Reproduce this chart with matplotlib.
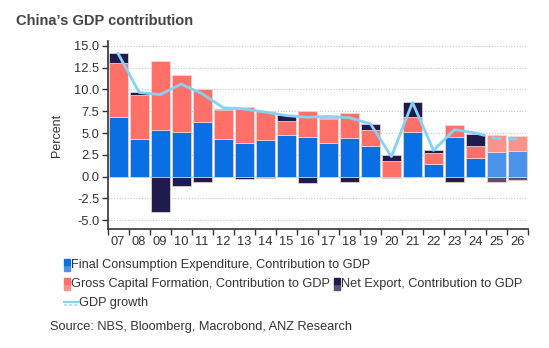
import matplotlib
matplotlib.use("Agg")
import matplotlib.pyplot as plt
from matplotlib.patches import Rectangle
from matplotlib.lines import Line2D
import numpy as np

plt.rcParams['font.family'] = ['Liberation Sans', 'DejaVu Sans']

years = ['07', '08', '09', '10', '11', '12', '13', '14', '15', '16',
         '17', '18', '19', '20', '21', '22', '23', '24', '25', '26']
fce = [6.83, 4.27, 5.38, 5.08, 6.26, 4.27, 3.85, 4.16, 4.77, 4.54,
       3.85, 4.47, 3.55, -0.11, 5.15, 1.49, 4.54, 2.18, 2.86, 2.94]
gcf = [6.22, 5.12, 7.86, 6.56, 3.78, 3.33, 4.13, 3.32, 1.60, 3.02,
       2.75, 2.86, 1.83, 1.76, 1.68, 1.22, 1.38, 1.29, 1.87, 1.72]
netx = [1.07, 0.30, -4.00, -1.07, -0.60, 0.19, -0.27, -0.10, 0.65, -0.76,
        0.15, -0.57, 0.65, 0.68, 1.72, 0.34, -0.57, 1.45, -0.61, -0.42]
gdp = [14.1, 9.65, 9.4, 10.6, 9.5, 7.9, 7.75, 7.4, 7.0, 6.8,
       6.9, 6.75, 6.05, 2.3, 8.5, 3.0, 5.4, 5.0, 4.35, 4.3]
n_forecast = 2

C_BLUE, C_BLUE_F = '#0a6fe3', '#4a93e8'
C_RED, C_RED_F = '#ff7068', '#fc928c'
C_NAVY, C_NAVY_F = '#1f1b4c', '#575279'
C_LINE = '#84d2f4'
TXT = '#333333'

n = len(years)
x = np.arange(n)
is_f = np.array([i >= n - n_forecast for i in range(n)])

fig = plt.figure(figsize=(5.49, 3.48), dpi=100)
ax = fig.add_axes([0.196, 0.342, 0.766, 0.539])

w = 0.9
pos_base = np.zeros(n)
neg_base = np.zeros(n)
for vals, c, cf in [(fce, C_BLUE, C_BLUE_F), (gcf, C_RED, C_RED_F), (netx, C_NAVY, C_NAVY_F)]:
    v = np.array(vals)
    bottoms = np.where(v >= 0, pos_base, neg_base)
    cols = [cf if f else c for f in is_f]
    ax.bar(x, v, w, bottom=bottoms, color=cols, edgecolor='#f3dada', linewidth=0.5, zorder=2)
    pos_base = pos_base + np.where(v >= 0, v, 0)
    neg_base = neg_base + np.where(v < 0, v, 0)

split = n - n_forecast - 1
ax.plot(x[:split + 1], gdp[:split + 1], color=C_LINE, lw=2, zorder=3)
ax.plot(x[split:], gdp[split:], color=C_LINE, lw=2, ls=(0, (3.5, 2.5)), zorder=3)

ax.set_xlim(-0.5, n - 0.5)
ax.set_ylim(-6, 15.5)
ax.set_yticks(np.arange(-5, 15.1, 2.5))
ax.set_yticklabels([f'{t:.1f}' for t in np.arange(-5, 15.1, 2.5)])
ax.yaxis.grid(True, color='#b5ccd8', linestyle=(0, (1, 1.5)), linewidth=0.8, zorder=0)
ax.set_xticks(x)
ax.set_xticklabels(years)
ax.set_xticks(np.arange(-0.5, n, 1), minor=True)
ax.tick_params(axis='x', which='major', length=0, labelsize=9.3, colors=TXT, pad=5)
ax.tick_params(axis='x', which='minor', length=4, width=1, color=TXT, direction='out')
ax.tick_params(axis='y', length=4, width=1, color=TXT, labelsize=9.3, labelcolor=TXT, pad=2)
for s in ['top', 'right']:
    ax.spines[s].set_visible(False)
for s in ['left', 'bottom']:
    ax.spines[s].set_color(TXT)
    ax.spines[s].set_linewidth(1.2)
ax.set_ylabel('Percent', fontsize=9, color=TXT, labelpad=8)

fig.text(16 / 549, 1 - 21 / 348, 'China\u2019s GDP contribution', fontsize=10.5,
         fontweight='bold', color='#444444', va='center', ha='left')

W, H = 549, 348


def patch(px, py, c1, c2):
    fig.patches.append(Rectangle((px / W, 1 - (py + 6) / H), 6 / W, 6 / H,
                                 transform=fig.transFigure, color=c2))
    fig.patches.append(Rectangle((px / W, 1 - py / H), 6 / W, 6 / H,
                                 transform=fig.transFigure, color=c1))


def label(px, py, s):
    fig.text(px / W, 1 - py / H, s, fontsize=9.2, color=TXT, va='center', ha='left')


patch(64, 265, C_BLUE, C_BLUE_F)
label(71, 265, 'Final Consumption Expenditure, Contribution to GDP')
patch(64, 284, C_RED, C_RED_F)
label(71, 284, 'Gross Capital Formation, Contribution to GDP')
patch(334, 284, C_NAVY, C_NAVY_F)
label(341, 284, 'Net Export, Contribution to GDP')
fig.lines.append(Line2D([64 / W, 78 / W], [1 - 302 / H, 1 - 302 / H], transform=fig.transFigure,
                        color=C_LINE, lw=1.5))
fig.lines.append(Line2D([64 / W, 78 / W], [1 - 305 / H, 1 - 305 / H], transform=fig.transFigure,
                        color=C_LINE, lw=1.2, ls=(0, (2, 1)), alpha=0.7))
label(79, 303, 'GDP growth')
label(50, 327, 'Source: NBS, Bloomberg, Macrobond, ANZ Research')

fig.savefig('out.png', dpi=100)
